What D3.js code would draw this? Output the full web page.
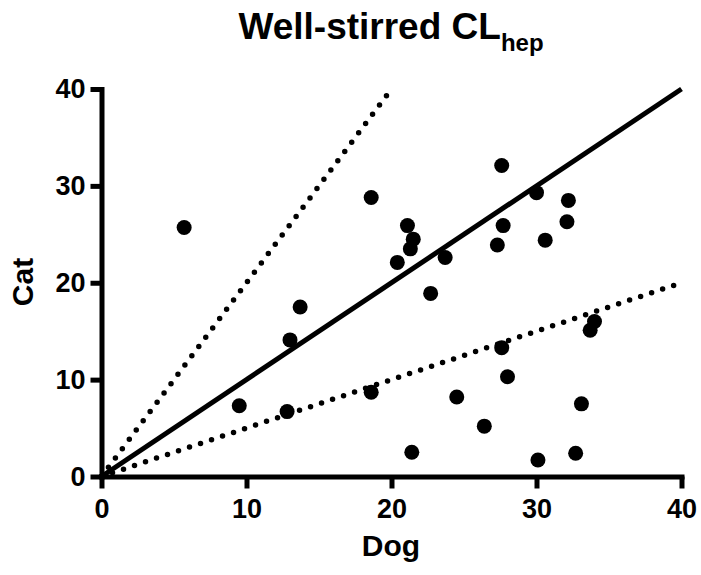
<!DOCTYPE html>
<html>
<head>
<meta charset="utf-8">
<script src="https://cdn.jsdelivr.net/npm/d3@7"></script>
<style>
  body { margin: 0; background: #fff; }
  text { font-family: "Liberation Sans", Arial, Helvetica, sans-serif; font-weight: bold; fill: #000; }
</style>
</head>
<body>
<script>
// data
var dogValues = [5.7, 9.5, 12.8, 13.0, 13.7, 18.6, 18.6, 21.1, 21.5, 21.3, 20.4, 23.7, 22.7,
                 27.6, 30.0, 27.7, 27.3, 30.6, 32.2, 32.1, 34.0, 33.7, 27.6, 28.0, 24.5,
                 33.1, 26.4, 21.4, 30.1, 32.7];
var catValues = [25.7, 7.3, 6.7, 14.1, 17.5, 28.8, 8.7, 25.9, 24.5, 23.5, 22.1, 22.6, 18.9,
                 32.1, 29.3, 25.9, 23.9, 24.4, 28.5, 26.3, 16.0, 15.1, 13.3, 10.3, 8.2,
                 7.5, 5.2, 2.5, 1.7, 2.4];
var tickValues = [0, 10, 20, 30, 40];
// reference lines: unity, 2-fold above, 2-fold below
var unityLine = [[0, 0], [40, 40]];
var upperLine = [[0, 0], [20, 40]];
var lowerLine = [[0, 0], [40, 20]];

var w = 701, h = 575;

var svg = d3.select("body")
    .append("svg")
    .attr("width", w)
    .attr("height", h);

var x = d3.scaleLinear()
    .domain([0, 40])
    .range([101.5, 681.5]);

var y = d3.scaleLinear()
    .domain([0, 40])
    .range([476.5, 89]);

var line = d3.line()
    .x(function(d){ return x(d[0]); })
    .y(function(d){ return y(d[1]); });

// dotted lines
svg.selectAll(".dotted")
    .data([upperLine, lowerLine])
    .enter()
    .append("path")
    .attr("class", "dotted")
    .attr("d", line)
    .style("fill", "none")
    .style("stroke", "#000")
    .style("stroke-width", 5.5)
    .style("stroke-linecap", "round")
    .style("stroke-dasharray", "0,11.6");

// solid identity line
svg.append("path")
    .attr("d", line(unityLine))
    .style("fill", "none")
    .style("stroke", "#000")
    .style("stroke-width", 5);

// points
svg.selectAll(".dot")
    .data(dogValues)
    .enter()
    .append("circle")
    .attr("class", "dot")
    .attr("cx", function(d){ return x(d); })
    .attr("cy", function(d, i){ return y(catValues[i]); })
    .attr("r", 7.5)
    .style("fill", "#000");

// axes
var xAxis = d3.axisBottom(x)
    .tickValues(tickValues)
    .tickSizeInner(12)
    .tickSizeOuter(0)
    .tickPadding(10);

var yAxis = d3.axisLeft(y)
    .tickValues(tickValues)
    .tickSizeInner(11)
    .tickSizeOuter(0)
    .tickPadding(5);

var gx = svg.append("g")
    .attr("transform", "translate(0," + y(0) + ")")
    .call(xAxis);

var gy = svg.append("g")
    .attr("transform", "translate(" + x(0) + ",0)")
    .call(yAxis);

[gx, gy].forEach(function(g){
    g.select(".domain")
        .style("stroke", "#000")
        .style("stroke-width", 5)
        .style("stroke-linecap", "square");
    g.selectAll(".tick line")
        .style("stroke", "#000")
        .style("stroke-width", 5);
    g.selectAll(".tick text")
        .style("font-family", "'Liberation Sans', Arial, sans-serif")
        .style("font-weight", "bold")
        .style("font-size", "27px")
        .style("fill", "#000");
});

// title
var title = svg.append("text")
    .attr("text-anchor", "middle")
    .attr("x", 391)
    .attr("y", 39)
    .style("font-size", "37px");
title.append("tspan").text("Well-stirred CL");
title.append("tspan")
    .attr("dy", 12)
    .style("font-size", "24px")
    .text("hep");

// axis titles
svg.append("text")
    .attr("text-anchor", "middle")
    .attr("x", 391)
    .attr("y", 556)
    .style("font-size", "30px")
    .text("Dog");

svg.append("text")
    .attr("text-anchor", "middle")
    .attr("transform", "translate(33,282) rotate(-90)")
    .style("font-size", "30px")
    .text("Cat");
</script>
</body>
</html>
